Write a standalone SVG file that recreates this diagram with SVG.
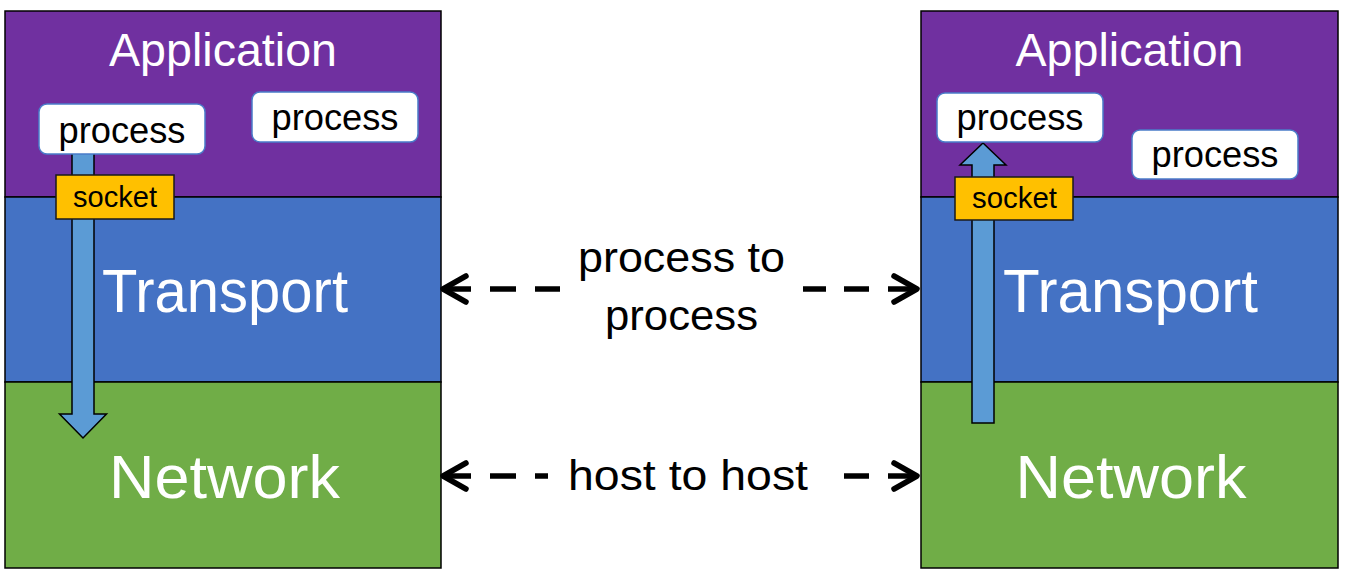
<svg xmlns="http://www.w3.org/2000/svg" width="1348" height="574" viewBox="0 0 1348 574">
<defs>
<style>
.app{fill:#7030A0;stroke:#000;stroke-width:1.5}
.tr{fill:#4472C4;stroke:#000;stroke-width:1.5}
.net{fill:#70AD47;stroke:#000;stroke-width:1.5}
.layer{font-family:"Liberation Sans",Arial,sans-serif;fill:#fff;text-anchor:middle}
.proc{fill:#fff;stroke:#4A7CC9;stroke-width:1.5}
.ptxt{font-family:"Liberation Sans",Arial,sans-serif;font-size:36px;fill:#000;text-anchor:middle}
.sock{fill:#FFC000;stroke:#1a1a1a;stroke-width:1.5}
.stxt{font-family:"Liberation Sans",Arial,sans-serif;font-size:29px;fill:#000;text-anchor:middle}
.arrow{fill:#5B9BD5;stroke:#000;stroke-width:1.5;stroke-linejoin:miter}
.dash{stroke:#000;stroke-width:5.5;fill:none;stroke-linecap:butt}
.head{stroke:#000;stroke-width:5.5;fill:none;stroke-linecap:round;stroke-linejoin:round}
.lbl{font-family:"Liberation Sans",Arial,sans-serif;font-size:42px;fill:#000;text-anchor:middle}
</style>
</defs>
<rect width="1348" height="574" fill="#fff"/>

<g id="left-application">
<rect class="app" x="5" y="11" width="436" height="186"/>
<text class="layer" x="223" y="66" font-size="46" textLength="228" lengthAdjust="spacingAndGlyphs">Application</text>
</g>
<g id="left-transport">
<rect class="tr" x="5" y="197" width="436" height="185"/>
<text class="layer" x="225" y="312" font-size="61" textLength="246" lengthAdjust="spacingAndGlyphs">Transport</text>
</g>
<g id="left-network">
<rect class="net" x="5" y="382" width="436" height="186"/>
<text class="layer" x="224.5" y="498" font-size="61" textLength="231" lengthAdjust="spacingAndGlyphs">Network</text>
</g>

<g id="right-application">
<rect class="app" x="921" y="11" width="417" height="186"/>
<text class="layer" x="1129.5" y="66" font-size="46" textLength="228" lengthAdjust="spacingAndGlyphs">Application</text>
</g>
<g id="right-transport">
<rect class="tr" x="921" y="197" width="417" height="185"/>
<text class="layer" x="1130.5" y="312" font-size="61" textLength="255" lengthAdjust="spacingAndGlyphs">Transport</text>
</g>
<g id="right-network">
<rect class="net" x="921" y="382" width="417" height="186"/>
<text class="layer" x="1131" y="498" font-size="61" textLength="231" lengthAdjust="spacingAndGlyphs">Network</text>
</g>

<g id="left-down-arrow">
<polygon class="arrow" points="72,153 94,153 94,414 106.5,414 83,438 59.5,414 72,414"/>
</g>
<g id="left-process-1">
<rect class="proc" x="39" y="104" width="166" height="50" rx="8"/>
<text class="ptxt" x="122" y="143" textLength="127" lengthAdjust="spacingAndGlyphs">process</text>
</g>
<g id="left-process-2">
<rect class="proc" x="252" y="92" width="166" height="50" rx="8"/>
<text class="ptxt" x="335" y="130" textLength="127" lengthAdjust="spacingAndGlyphs">process</text>
</g>
<g id="left-socket">
<rect class="sock" x="56" y="175" width="118" height="44"/>
<text class="stxt" x="115" y="207" textLength="84" lengthAdjust="spacingAndGlyphs">socket</text>
</g>

<g id="right-up-arrow">
<polygon class="arrow" points="983,143 1006,165 994,165 994,423 972,423 972,165 960,165"/>
</g>
<g id="right-process-1">
<rect class="proc" x="937" y="93" width="166" height="49" rx="8"/>
<text class="ptxt" x="1020" y="130" textLength="127" lengthAdjust="spacingAndGlyphs">process</text>
</g>
<g id="right-process-2">
<rect class="proc" x="1132" y="130" width="166" height="49" rx="8"/>
<text class="ptxt" x="1215" y="167" textLength="127" lengthAdjust="spacingAndGlyphs">process</text>
</g>
<g id="right-socket">
<rect class="sock" x="955" y="177" width="118" height="43"/>
<text class="stxt" x="1014.5" y="208" textLength="85" lengthAdjust="spacingAndGlyphs">socket</text>
</g>

<g id="connectors">
<g id="process-to-process">
<path class="dash" d="M444,289 H471 M490,289 H516 M535,289 H560 M803,289 H826 M844,289 H869 M888,289 H916"/>
<path class="head" d="M466,276 L443,289 L466,302"/>
<path class="head" d="M894,276 L917,289 L894,302"/>
<text class="lbl" x="681.5" y="272" textLength="207" lengthAdjust="spacingAndGlyphs">process to</text>
<text class="lbl" x="681.5" y="330" textLength="153" lengthAdjust="spacingAndGlyphs">process</text>
</g>
<g id="host-to-host">
<path class="dash" d="M444,476 H471 M490,476 H516 M535,476 H548 M844,476 H869 M888,476 H916"/>
<path class="head" d="M466,463 L443,476 L466,489"/>
<path class="head" d="M894,463 L917,476 L894,489"/>
<text class="lbl" x="688" y="490" textLength="240" lengthAdjust="spacingAndGlyphs">host to host</text>
</g>
</g>
</svg>
